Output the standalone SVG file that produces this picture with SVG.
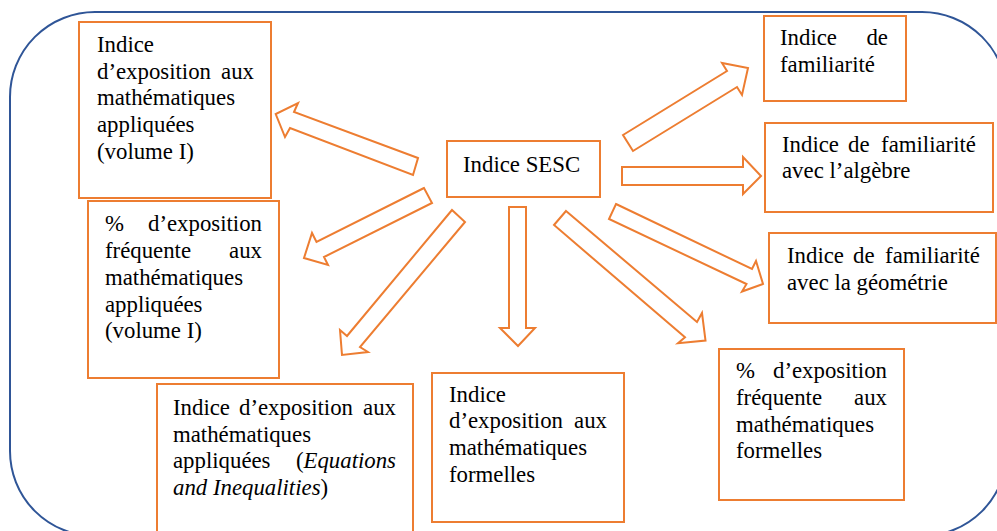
<svg xmlns="http://www.w3.org/2000/svg" width="997" height="531" viewBox="0 0 997 531">
<style>
.box{fill:#ffffff;stroke:#ED7D31;stroke-width:2}
.arr{fill:#ffffff;stroke:#ED7D31;stroke-width:2;stroke-linejoin:miter}
.t{font-family:"Liberation Serif","Times New Roman",serif;font-size:22.8px;fill:#000000}
.e{text-anchor:end}
.i{font-style:italic}
</style>
<rect id="frame" x="10" y="12" width="997" height="524" rx="85" ry="85" fill="none" stroke="#2F5597" stroke-width="2"/>
<g id="connectors">
<polygon class="arr" points="418,158 294,112 298,103 275.7,114 285,137 290,128 413,175"/>
<polygon class="arr" points="424,188 316.5,242 312,233 304,258 328,265 324,257 432,203"/>
<polygon class="arr" points="452,210 347,336 340,330 342,355 368,352 360,347 465,222"/>
<polygon class="arr" points="509,207 526,207 526,328 535,328 518,346 500,328 509,328"/>
<polygon class="arr" points="566,211 697,322 702,313 705.5,340.5 678,343.3 685,337.3 554,225"/>
<polygon class="arr" points="616,204 752,269 756,261 763,284 742,291.5 746.5,284 609,219"/>
<polygon class="arr" points="622,167 743,167 743,157 761,176 743,194 743,185 622,185"/>
<polygon class="arr" points="623,135 727,71 722,63 748,68 742,95 737,87 633,151"/>
</g>
<g id="node-sesc">
<rect class="box" x="447" y="141" width="153" height="56"/>
<text class="t" x="463" y="172">Indice SESC</text>
</g>
<g id="node-expo-appl">
<rect class="box" x="79" y="22" width="192" height="176"/>
<text class="t" x="97" y="51.7">Indice</text>
<text class="t" x="97" y="78.5">d’exposition</text>
<text class="t e" x="254" y="78.5">aux</text>
<text class="t" x="97" y="105.3">mathématiques</text>
<text class="t" x="97" y="132">appliquées</text>
<text class="t" x="97" y="158.8">(volume I)</text>
</g>
<g id="node-pct-appl">
<rect class="box" x="88" y="201" width="191" height="177"/>
<text class="t" x="105" y="231">%</text>
<text class="t e" x="262" y="231">d’exposition</text>
<text class="t" x="105" y="258">fréquente</text>
<text class="t e" x="262" y="258">aux</text>
<text class="t" x="105" y="284.7">mathématiques</text>
<text class="t" x="105" y="311.5">appliquées</text>
<text class="t" x="105" y="338.3">(volume I)</text>
</g>
<g id="node-expo-eq">
<rect class="box" x="157" y="384" width="256" height="160"/>
<text class="t" x="173" y="415">Indice</text>
<text class="t" x="239" y="415">d’exposition</text>
<text class="t e" x="396" y="415">aux</text>
<text class="t" x="173" y="441.7">mathématiques</text>
<text class="t" x="173" y="468.3">appliquées</text>
<text class="t e" x="396" y="468.3">(<tspan class="i">Equations</tspan></text>
<text class="t" x="173" y="495"><tspan class="i">and Inequalities</tspan>)</text>
</g>
<g id="node-expo-form">
<rect class="box" x="432" y="373" width="192" height="149"/>
<text class="t" x="449" y="401.7">Indice</text>
<text class="t" x="449" y="428.3">d’exposition</text>
<text class="t e" x="607" y="428.3">aux</text>
<text class="t" x="449" y="455">mathématiques</text>
<text class="t" x="449" y="481.7">formelles</text>
</g>
<g id="node-pct-form">
<rect class="box" x="719" y="349" width="185" height="151"/>
<text class="t" x="736" y="378.3">%</text>
<text class="t e" x="887" y="378.3">d’exposition</text>
<text class="t" x="736" y="405">fréquente</text>
<text class="t e" x="887" y="405">aux</text>
<text class="t" x="736" y="431.7">mathématiques</text>
<text class="t" x="736" y="458.3">formelles</text>
</g>
<g id="node-famil">
<rect class="box" x="764" y="16" width="142" height="85"/>
<text class="t" x="780" y="45">Indice</text>
<text class="t e" x="888" y="45">de</text>
<text class="t" x="780" y="71.7">familiarité</text>
</g>
<g id="node-famil-alg">
<rect class="box" x="765" y="123" width="228" height="89"/>
<text class="t" x="782" y="151.7">Indice</text>
<text class="t" x="848" y="151.7">de</text>
<text class="t e" x="976" y="151.7">familiarité</text>
<text class="t" x="782" y="178.3">avec l’algèbre</text>
</g>
<g id="node-famil-geo">
<rect class="box" x="769" y="233" width="227" height="90"/>
<text class="t" x="787" y="263.3">Indice</text>
<text class="t" x="853" y="263.3">de</text>
<text class="t e" x="980" y="263.3">familiarité</text>
<text class="t" x="787" y="290">avec la géométrie</text>
</g>
</svg>
